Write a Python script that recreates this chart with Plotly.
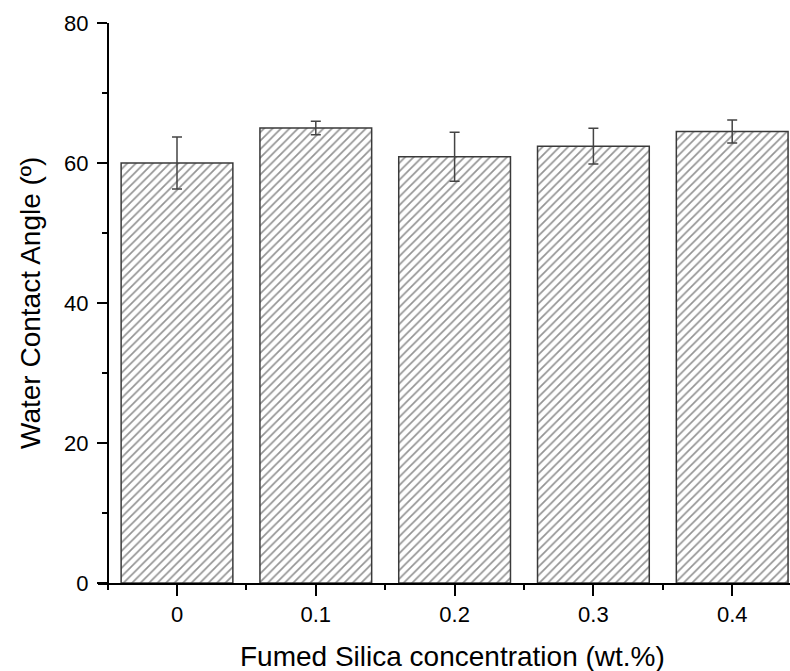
import plotly.graph_objects as go

categories = ["0", "0.1", "0.2", "0.3", "0.4"]
contact_angle = [60.0, 65.0, 60.9, 62.4, 64.5]
angle_error = [3.7, 0.95, 3.5, 2.55, 1.65]
y_ticks = [0, 20, 40, 60, 80]

FONT = "Arial, Liberation Sans, sans-serif"
xpos = list(range(len(categories)))

fig = go.Figure()
fig.add_trace(go.Bar(
    x=xpos, y=contact_angle, width=0.805,
    marker=dict(color="white",
                line=dict(color="#3a3a3a", width=1.5),
                pattern=dict(shape="/", fgcolor="#2a2a2a", bgcolor="white",
                             size=6, solidity=0.28)),
    error_y=dict(type="data", array=angle_error, visible=True,
                 color="#444444", thickness=1.5, width=5),
    showlegend=False,
))

W, H = 790, 671
L, R, T, B = 98, 0, 23, 88
plot_w = W - L - R
px_per_unit = 138.8
x0_px = 177 - L
x_lo = -x0_px / px_per_unit
x_hi = (plot_w - x0_px) / px_per_unit
yaxis_pos = (x0_px - 0.5 * px_per_unit) / plot_w

fig.update_layout(
    width=W, height=H,
    margin=dict(l=L, r=R, t=T, b=B, autoexpand=False),
    plot_bgcolor="white", paper_bgcolor="white",
    font=dict(family=FONT, color="black", size=22),
    bargap=0.2,
    xaxis=dict(
        range=[x_lo, x_hi], automargin=False,
        tickmode="array", tickvals=xpos, ticktext=categories,
        showline=True, linecolor="black", linewidth=1.5,
        ticks="outside", ticklen=11, tickwidth=1.5, tickcolor="black",
        showgrid=False, zeroline=False,
        tickfont=dict(size=22, family=FONT, color="black"),
        minor=dict(tickmode="array",
                   tickvals=[i - 0.5 for i in range(len(categories) + 1)],
                   ticks="outside", ticklen=5, tickwidth=1.5, tickcolor="black",
                   showgrid=False),
    ),
    yaxis=dict(
        range=[0, 80], automargin=False,
        anchor="free", position=yaxis_pos,
        tickmode="array", tickvals=y_ticks,
        showline=True, linecolor="black", linewidth=1.5,
        ticks="outside", ticklen=10, tickwidth=1.5, tickcolor="black",
        showgrid=False, zeroline=False,
        tickfont=dict(size=22, family=FONT, color="black"),
        ticklabelstandoff=4,
        minor=dict(tickmode="array", tickvals=[10, 30, 50, 70],
                   ticks="outside", ticklen=5, tickwidth=1.5, tickcolor="black",
                   showgrid=False),
    ),
    annotations=[
        dict(text="Fumed Silica concentration (wt.%)", xref="paper", yref="paper",
             x=(453 - L) / plot_w, y=-(656 - (H - B)) / (H - T - B),
             xanchor="center", yanchor="middle", showarrow=False,
             font=dict(size=28, family=FONT, color="black")),
        dict(text="Water Contact Angle (º)", xref="paper", yref="paper",
             x=-(L - 30) / plot_w, y=0.5, textangle=-90,
             xanchor="center", yanchor="middle", showarrow=False,
             font=dict(size=28, family=FONT, color="black")),
    ],
)

fig.write_html("out.html",
               config={"displayModeBar": False},
               post_script="document.body.style.margin='0px';document.body.style.padding='0px';")
